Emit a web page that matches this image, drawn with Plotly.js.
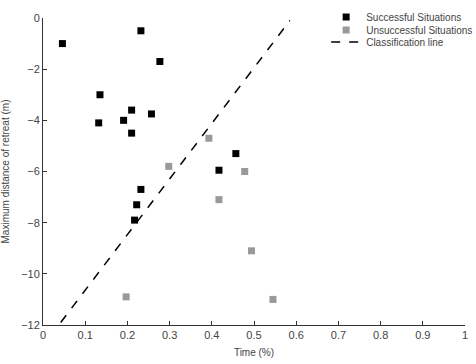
<!DOCTYPE html>
<html>
<head>
<meta charset="utf-8">
<script src="https://cdn.plot.ly/plotly-3.0.1.min.js"></script>
<style>html,body{margin:0;padding:0;background:#fff;}#chart{width:476px;height:364px;}</style>
</head>
<body>
<div id="chart"></div>
<script>
// Successful situations
const successTime = [0.046, 0.232, 0.277, 0.135, 0.132, 0.191, 0.210, 0.210, 0.257, 0.457, 0.417, 0.232, 0.222, 0.217];
const successDist = [-1.0, -0.5, -1.7, -3.0, -4.1, -4.0, -3.6, -4.5, -3.75, -5.3, -5.95, -6.7, -7.3, -7.9];
// Unsuccessful situations
const failTime = [0.393, 0.298, 0.197, 0.417, 0.478, 0.494, 0.545];
const failDist = [-4.7, -5.8, -10.9, -7.1, -6.0, -9.1, -11.0];
// Classification line end points
const lineTime = [0.042, 0.585];
const lineDist = [-11.9, -0.1];

const xTicks = [0, 0.1, 0.2, 0.3, 0.4, 0.5, 0.6, 0.7, 0.8, 0.9, 1];
const xTickText = ['0', '0.1', '0.2', '0.3', '0.4', '0.5', '0.6', '0.7', '0.8', '0.9', '1'];
const yTicks = [-12, -10, -8, -6, -4, -2, 0];

const font = 'Liberation Sans, Arial, sans-serif';

const traces = [
  {x: successTime, y: successDist, mode: 'markers', type: 'scatter', name: 'Successful Situations',
   legend: 'legend', marker: {symbol: 'square', size: 7, color: '#000000'}},
  {x: failTime, y: failDist, mode: 'markers', type: 'scatter', name: 'Unsuccessful Situations',
   legend: 'legend2', marker: {symbol: 'square', size: 7, color: '#999999'}},
  {x: lineTime, y: lineDist, mode: 'lines', type: 'scatter', name: 'Classification line',
   legend: 'legend3', line: {color: '#000000', width: 1.5, dash: 'dash'}}
];

const legFont = {family: font, size: 10, color: '#444'};
const legX = 0.671;
function leg(y) {
  return {x: legX, xanchor: 'left', y: y, yanchor: 'middle', bgcolor: 'rgba(0,0,0,0)',
          font: legFont, borderwidth: 0};
}

const layout = {
  width: 476, height: 364,
  margin: {l: 43, r: 11, t: 18, b: 39, autoexpand: false},
  paper_bgcolor: '#ffffff', plot_bgcolor: '#ffffff',
  font: {family: font, size: 11, color: '#444'},
  showlegend: true,
  legend: leg(1.003),
  legend2: leg(0.961),
  legend3: leg(0.922),
  xaxis: {range: [0, 1], tickvals: xTicks, ticktext: xTickText, ticks: 'inside', ticklen: 4,
          tickcolor: '#333', showline: true, linecolor: '#333', linewidth: 1, showgrid: false, zeroline: false,
          automargin: false,
          title: {text: 'Time (%)', font: {family: font, size: 10, color: '#444'}, standoff: 8},
          tickfont: {family: font, size: 11, color: '#444'}},
  yaxis: {range: [-12, 0], tickvals: yTicks, ticks: 'inside', ticklen: 4,
          tickcolor: '#333', showline: true, linecolor: '#333', linewidth: 1, showgrid: false, zeroline: false,
          automargin: false,
          title: {text: 'Maximum distance of retreat (m)', font: {family: font, size: 10, color: '#444'}, standoff: 10},
          tickfont: {family: font, size: 11, color: '#444'}}
};

Plotly.newPlot('chart', traces, layout, {displayModeBar: false, staticPlot: true});
</script>
</body>
</html>
